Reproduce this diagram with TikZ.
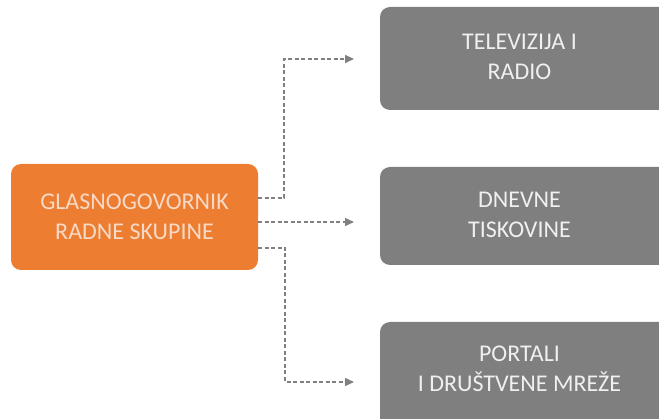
\documentclass[tikz,border=0pt]{standalone}
\usepackage{fontspec}
\setmainfont{Carlito}
\usetikzlibrary{arrows.meta}
\definecolor{boxorange}{HTML}{ED7D31}
\definecolor{boxgray}{HTML}{7F7F7F}
\definecolor{orangetext}{HTML}{F6D9C6}
\definecolor{graytext}{HTML}{F0F0F0}
\definecolor{linegray}{HTML}{808080}
\tikzset{
  x=1pt, y=-1pt,
  srcbox/.style={fill=boxorange, rounded corners=10pt, inner sep=0pt, align=center,
    text=orangetext, font=\fontsize{24}{30}\selectfont},
  mediabox/.style={inner sep=0pt, align=center, text=graytext,
    font=\fontsize{24}{30}\selectfont},
  conn/.style={draw=linegray, line width=1.5pt, dash pattern=on 4pt off 2.5pt,
    -{Triangle[length=9pt,width=8pt]}},
}
\begin{document}
\begin{tikzpicture}
\useasboundingbox (0,0) rectangle (659,419);
% source box
\node[srcbox, minimum width=247pt, minimum height=106pt] (src) at (134.5,217) {GLASNOGOVORNIK\\RADNE SKUPINE};
% media boxes (background shapes)
\fill[boxgray, rounded corners=10pt] (380,7) rectangle (680,110);
\fill[boxgray, rounded corners=10pt] (380,167) rectangle (680,265);
\fill[boxgray, rounded corners=10pt] (380,322) rectangle (680,430);
\node[mediabox, minimum width=279pt, minimum height=103pt] (tv) at (519.5,57) {TELEVIZIJA I\\RADIO};
\node[mediabox, minimum width=279pt, minimum height=98pt] (dn) at (519.5,215) {DNEVNE\\TISKOVINE};
\node[mediabox, minimum width=279pt, minimum height=97pt] (pt) at (519.5,369) {PORTALI\\I DRUŠTVENE MREŽE};
% connectors
\coordinate (s1) at (258,198);
\coordinate (s2) at (258,222);
\coordinate (s3) at (258,248);
\coordinate (e1) at (354,59);
\coordinate (e2) at (354,222);
\coordinate (e3) at (354,382);
\draw[conn] (s1) -- (284,198) -- (284,59) -- (e1);
\draw[conn] (s2) -- (e2);
\draw[conn] (s3) -- (285,248) -- (285,382) -- (e3);
\end{tikzpicture}
\end{document}
